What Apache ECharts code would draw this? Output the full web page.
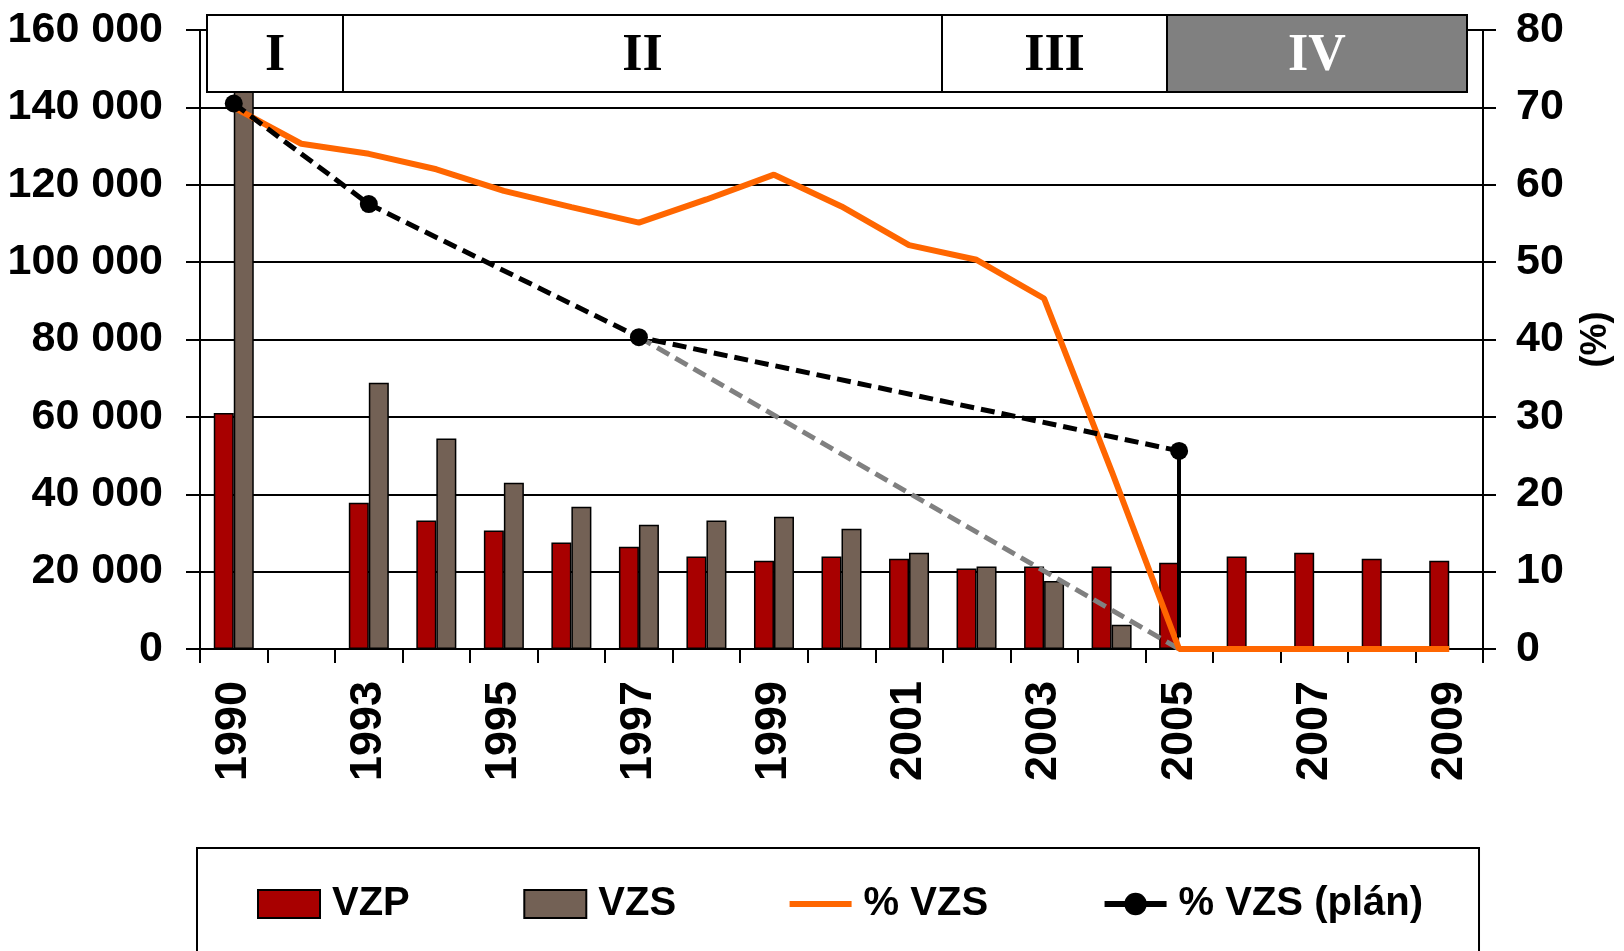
<!DOCTYPE html>
<html>
<head>
<meta charset="utf-8">
<script src="https://cdn.jsdelivr.net/npm/echarts@6/dist/echarts.min.js"></script>
<style>
html,body{margin:0;padding:0;background:#fff;}
#chart{width:1624px;height:951px;}
</style>
</head>
<body>
<div id="chart"></div>
<script>
const years = ['1990','1991','1993','1994','1995','1996','1997','1998','1999','2000','2001','2002','2003','2004','2005','2006','2007','2008','2009'];
const vzp = [61000, null, 37800, 33200, 30600, 27500, 26400, 23900, 22800, 23900, 23300, 20800, 21300, 21300, 22300, 23900, 24900, 23300, 22800];
const vzs = [148000, null, 68800, 54400, 43000, 36800, 32100, 33200, 34200, 31100, 24900, 21300, 17600, 6300, null, null, null, null, null];
const pctVzs = [70, 65.3, 64, 62, 59.2, 57.1, 55.1, 58.1, 61.3, 57.2, 52.2, 50.3, 45.3, 23, 0, 0, 0, 0, 0];
const pctPlan = [70.5, null, 57.5, null, null, null, 40.3, null, null, null, null, null, null, null, 25.6, null, null, null, null];
const pctTrend = [null, null, null, null, null, null, 40.3, null, null, null, null, null, null, null, 0, null, null, null, null];
const dropYear = '2005';
const dropFrom = 25.5;
const dropTo = 1.5;
const periodLabels = ['I', 'II', 'III', 'IV'];
const seriesNames = ['VZP', 'VZS', '% VZS', '% VZS (plán)'];

const FONT = 'Liberation Sans, Arial, sans-serif';
const chart = echarts.init(document.getElementById('chart'), null, {renderer: 'canvas'});

function fmtThousands(v) {
  return String(v).replace(/\B(?=(\d{3})+(?!\d))/g, ' ');
}

// period box layout (pixels)
const boxEdges = [207, 343, 942, 1167, 1467];
const boxTop = 15, boxH = 77;
const periodGraphics = [];
periodLabels.forEach((lab, i) => {
  const last = i === periodLabels.length - 1;
  periodGraphics.push({
    type: 'rect', z: 100,
    shape: {x: boxEdges[i], y: boxTop, width: boxEdges[i + 1] - boxEdges[i], height: boxH},
    style: {fill: last ? '#808080' : '#fff', stroke: '#000', lineWidth: 2}
  });
  periodGraphics.push({
    type: 'text', z: 101,
    x: (boxEdges[i] + boxEdges[i + 1]) / 2, y: boxTop + boxH / 2 + 3,
    style: {text: lab, fill: last ? '#fff' : '#000', font: 'bold 52px "Liberation Serif", "Times New Roman", serif',
            align: 'center', verticalAlign: 'middle'}
  });
});

const option = {
  animation: false,
  backgroundColor: '#fff',
  grid: {left: 200, right: 141, top: 30, bottom: 302, containLabel: false},
  legend: {
    left: 197, top: 848,
    padding: [36, 56, 64, 60],
    borderColor: '#000', borderWidth: 2,
    itemGap: 113.5, itemWidth: 62, itemHeight: 28,
    textStyle: {fontSize: 40, fontWeight: 'bold', color: '#000', fontFamily: FONT, padding: [0, 0, 0, 7]},
    data: [
      {name: seriesNames[0], icon: 'rect'},
      {name: seriesNames[1], icon: 'rect'},
      {name: seriesNames[2], icon: 'path://M0,0 L62,0 L62,6 L0,6 Z', itemStyle: {color: '#FF6600', borderWidth: 0}},
      {name: seriesNames[3], lineStyle: {type: 'solid', width: 6}}
    ]
  },
  xAxis: {
    type: 'category', data: years, boundaryGap: true,
    axisLine: {lineStyle: {color: '#000', width: 2}},
    axisTick: {show: true, interval: 0, length: 14, lineStyle: {color: '#000', width: 2}},
    axisLabel: {interval: 1, rotate: 90, margin: 32, fontSize: 45, fontWeight: 'bold', color: '#000', fontFamily: FONT},
    splitLine: {show: false}
  },
  yAxis: [
    {
      type: 'value', min: 0, max: 160000, interval: 20000,
      axisLine: {show: true, lineStyle: {color: '#000', width: 2}},
      axisTick: {show: true, length: 14, lineStyle: {color: '#000', width: 2}},
      axisLabel: {margin: 37, fontSize: 43, fontWeight: 'bold', color: '#000', fontFamily: FONT, formatter: fmtThousands},
      splitLine: {show: true, lineStyle: {color: '#000', width: 2}}
    },
    {
      type: 'value', min: 0, max: 80, interval: 10, position: 'right',
      name: '(%)', nameLocation: 'middle', nameGap: 95, nameRotate: 90,
      nameTextStyle: {fontSize: 36, fontWeight: 'bold', color: '#000', fontFamily: FONT},
      axisLine: {show: true, lineStyle: {color: '#000', width: 2}},
      axisTick: {show: true, length: 13, lineStyle: {color: '#000', width: 2}},
      axisLabel: {margin: 33, fontSize: 43, fontWeight: 'bold', color: '#000', fontFamily: FONT},
      splitLine: {show: false}
    }
  ],
  series: [
    {
      name: seriesNames[0], type: 'bar', data: vzp, barWidth: 20, barGap: '0%',
      itemStyle: {color: '#A80000', borderColor: '#000', borderWidth: 1.5}, z: 2
    },
    {
      name: seriesNames[1], type: 'bar', data: vzs, barWidth: 20, barGap: '0%',
      itemStyle: {color: '#736155', borderColor: '#000', borderWidth: 1.5}, z: 2
    },
    {
      name: 'trend', type: 'line', yAxisIndex: 1, data: pctTrend, connectNulls: true,
      symbol: 'none', lineStyle: {color: '#808080', width: 5, type: [14, 7]}, z: 3
    },
    {
      name: seriesNames[2], type: 'line', yAxisIndex: 1, data: pctVzs,
      symbol: 'none', itemStyle: {color: '#FF6600'}, lineStyle: {color: '#FF6600', width: 6}, z: 4
    },
    {
      name: seriesNames[3], type: 'line', yAxisIndex: 1, data: pctPlan, connectNulls: true,
      symbol: 'circle', symbolSize: 18, itemStyle: {color: '#000'},
      lineStyle: {color: '#000', width: 5, type: [14, 7]}, z: 5,
      markLine: {
        silent: true, symbol: ['none', 'none'], label: {show: false},
        lineStyle: {color: '#000', width: 4, type: 'solid'},
        data: [[{coord: [dropYear, dropFrom]}, {coord: [dropYear, dropTo]}]]
      }
    }
  ],
  graphic: periodGraphics
};
chart.setOption(option);
</script>
</body>
</html>
